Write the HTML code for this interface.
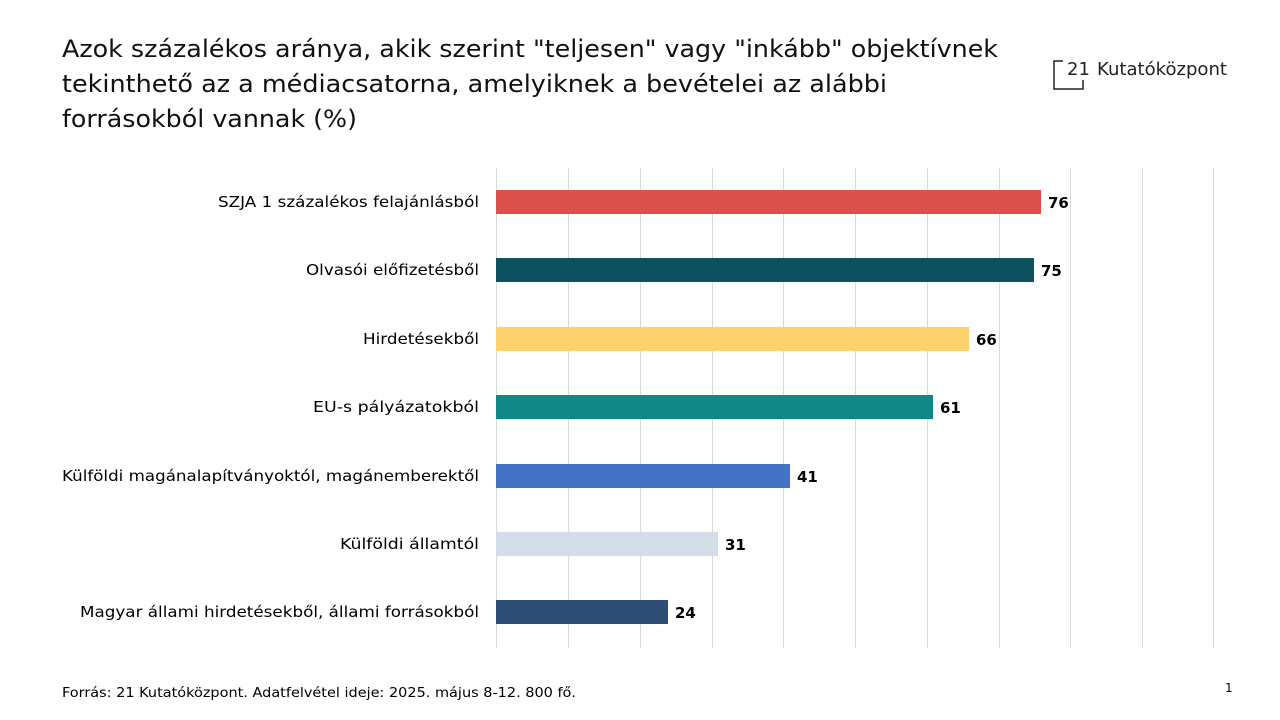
<!DOCTYPE html>
<html><head><meta charset="utf-8"><style>
body{margin:0;background:#fff;}
svg{display:block;font-family:"DejaVu Sans","Liberation Sans",sans-serif;}
</style></head><body>
<svg width="1280" height="720" xmlns="http://www.w3.org/2000/svg">
<g font-size="24" fill="#111" font-family="DejaVu Sans, sans-serif">
<text x="62" y="57" textLength="936" lengthAdjust="spacingAndGlyphs">Azok százalékos aránya, akik szerint "teljesen" vagy "inkább" objektívnek</text>
<text x="62" y="92" textLength="825" lengthAdjust="spacingAndGlyphs">tekinthető az a médiacsatorna, amelyiknek a bevételei az alábbi</text>
<text x="62" y="127" textLength="295" lengthAdjust="spacingAndGlyphs">forrásokból vannak (%)</text>
</g>
<g stroke="#222" stroke-width="1.5" fill="none">
<polyline points="1063,61 1054,61 1054,89 1083,89 1083,80"/>
</g>
<text x="1067" y="75" font-size="18" fill="#222">21</text>
<text x="1097" y="75" font-size="18" fill="#222" textLength="130" lengthAdjust="spacingAndGlyphs">Kutatóközpont</text>
<g stroke="#d9d9d9" stroke-width="1">
<line x1="496.5" y1="168" x2="496.5" y2="648"/><line x1="568.5" y1="168" x2="568.5" y2="648"/>
<line x1="640.5" y1="168" x2="640.5" y2="648"/><line x1="712.5" y1="168" x2="712.5" y2="648"/>
<line x1="783.5" y1="168" x2="783.5" y2="648"/><line x1="855.5" y1="168" x2="855.5" y2="648"/>
<line x1="927.5" y1="168" x2="927.5" y2="648"/><line x1="999.5" y1="168" x2="999.5" y2="648"/>
<line x1="1070.5" y1="168" x2="1070.5" y2="648"/><line x1="1142.5" y1="168" x2="1142.5" y2="648"/>
<line x1="1213.5" y1="168" x2="1213.5" y2="648"/>
</g>
<g>
<rect x="496" y="190" width="545" height="24" fill="#db4f4c"/>
<rect x="496" y="258" width="538" height="24" fill="#0d535f"/>
<rect x="496" y="327" width="473" height="24" fill="#fdd16b"/>
<rect x="496" y="395" width="437" height="24" fill="#0f8886"/>
<rect x="496" y="464" width="294" height="24" fill="#4472c4"/>
<rect x="496" y="532" width="222" height="24" fill="#d5dde8"/>
<rect x="496" y="600" width="172" height="24" fill="#2e4d75"/>
</g>
<g font-size="15" fill="#000" text-anchor="end" lengthAdjust="spacingAndGlyphs">
<text x="479" y="207" textLength="261" lengthAdjust="spacingAndGlyphs">SZJA 1 százalékos felajánlásból</text>
<text x="479" y="275" textLength="173" lengthAdjust="spacingAndGlyphs">Olvasói előfizetésből</text>
<text x="479" y="344" textLength="116" lengthAdjust="spacingAndGlyphs">Hirdetésekből</text>
<text x="479" y="412" textLength="166" lengthAdjust="spacingAndGlyphs">EU-s pályázatokból</text>
<text x="479" y="481" textLength="417" lengthAdjust="spacingAndGlyphs">Külföldi magánalapítványoktól, magánemberektől</text>
<text x="479" y="549" textLength="139" lengthAdjust="spacingAndGlyphs">Külföldi államtól</text>
<text x="479" y="617" textLength="399" lengthAdjust="spacingAndGlyphs">Magyar állami hirdetésekből, állami forrásokból</text>
</g>
<g font-size="15" fill="#000" font-weight="bold">
<text x="1048" y="208">76</text>
<text x="1041" y="276">75</text>
<text x="976" y="345">66</text>
<text x="940" y="413">61</text>
<text x="797" y="482">41</text>
<text x="725" y="550">31</text>
<text x="675" y="618">24</text>
</g>
<text x="62" y="697" font-size="13" fill="#000" textLength="514" lengthAdjust="spacingAndGlyphs">Forrás: 21 Kutatóközpont. Adatfelvétel ideje: 2025. május 8-12. 800 fő.</text>
<text x="1225" y="692" font-size="12" fill="#000">1</text>
</svg>
</body></html>
